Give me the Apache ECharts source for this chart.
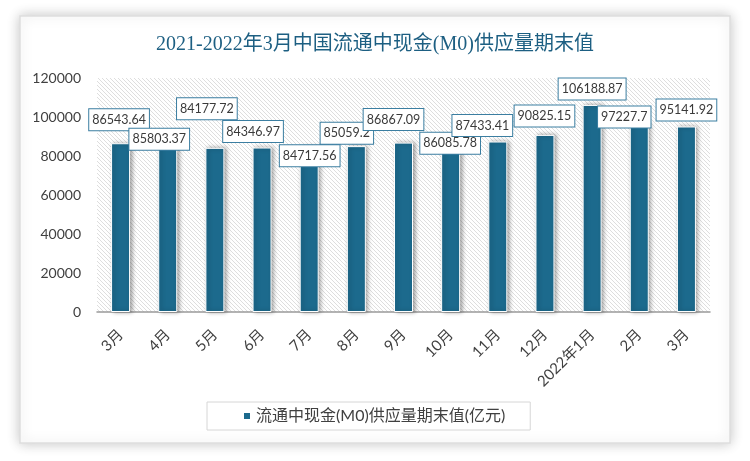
<!DOCTYPE html>
<html>
<head>
<meta charset="utf-8">
<script src="https://cdn.jsdelivr.net/npm/echarts@6/dist/echarts.min.js"></script>
<style>html,body{margin:0;padding:0;background:#fff;}#c{width:750px;height:461px;}</style>
</head>
<body>
<div id="c"></div>
<script>
const titleText = '2021-2022年3月中国流通中现金(M0)供应量期末值';
const seriesName = '流通中现金(M0)供应量期末值(亿元)';
const categories = ['3月','4月','5月','6月','7月','8月','9月','10月','11月','12月','2022年1月','2月','3月'];
const values = [86543.64,85803.37,84177.72,84346.97,84717.56,85059.2,86867.09,86085.78,87433.41,90825.15,106188.87,97227.7,95141.92];
const yTicks = {min:0, max:120000, interval:20000};
// label nudges (px) imitating the reference's manual label placement
const labelNudges = [[-1.5,-8],[-8.5,10],[-8,-23.5],[-9,-0.5],[0.5,24.5],[-9.5,2.5],[-10,-7.5],[-0.5,14.5],[-15.5,-0.5],[-0.5,-3.5],[0,-0.5],[-15,10],[0,-1]];

const FONT = 'Lato, "Noto Sans CJK SC", sans-serif';

function hatch(){
  const s = 4, c = document.createElement('canvas');
  c.width = s; c.height = s;
  const g = c.getContext('2d');
  g.fillStyle = '#ffffff'; g.fillRect(0,0,s,s);
  g.strokeStyle = '#dedede'; g.lineWidth = 1;
  g.beginPath();
  g.moveTo(-1,-1); g.lineTo(s+1,s+1);
  g.moveTo(-1,s-1); g.lineTo(1,s+1);
  g.moveTo(s-1,-1); g.lineTo(s+1,1);
  g.stroke();
  return {image:c, repeat:'repeat'};
}

const chart = echarts.init(document.getElementById('c'), null, {renderer:'canvas'});
chart.setOption({
  animation:false,
  backgroundColor:'#ffffff',
  graphic:[{
    type:'rect', z:-10, silent:true,
    shape:{x:20,y:16,width:710,height:427},
    style:{fill:'#ffffff', stroke:'#dedede', lineWidth:1.5, shadowBlur:12, shadowColor:'rgba(0,0,0,0.22)', shadowOffsetX:0, shadowOffsetY:0}
  }],
  title:{
    text:titleText, left:'center', top:30,
    textStyle:{fontFamily:'"Liberation Serif", "Noto Sans CJK SC", serif', fontSize:20, fontWeight:'normal', color:'#1d5f82'}
  },
  grid:{left:97, right:40, top:78, bottom:149, show:true, borderWidth:0, backgroundColor:hatch()},
  legend:{
    left:207, top:402, itemWidth:8, itemHeight:8, itemGap:5, icon:'rect',
    borderColor:'#d6d6d6', borderWidth:1, padding:[6,25,6,35],
    textStyle:{fontFamily:FONT, fontSize:16, color:'#404040'},
    data:[seriesName]
  },
  xAxis:{
    type:'category', data:categories,
    axisLine:{lineStyle:{color:'#9a9a9a', width:1.5}},
    axisTick:{show:false},
    axisLabel:{rotate:45, interval:0, fontFamily:FONT, fontSize:15, color:'#404040', margin:20}
  },
  yAxis:{
    type:'value', min:yTicks.min, max:yTicks.max, interval:yTicks.interval,
    axisLine:{show:false}, axisTick:{show:false}, splitLine:{show:false},
    axisLabel:{fontFamily:FONT, fontSize:14, color:'#404040', margin:16, formatter:v=>String(v)}
  },
  series:[{
    name:seriesName, type:'bar', barWidth:19,
    itemStyle:{color:'#1c6a8d', borderColor:'#ffffff', borderWidth:1, shadowBlur:4, shadowOffsetX:2, shadowOffsetY:0, shadowColor:'rgba(0,0,0,0.35)'},
    data:values.map((v,i)=>({value:v, label:{offset:labelNudges[i]}})),
    label:{
      show:true, position:'top', distance:5,
      formatter:p=>String(p.value),
      fontFamily:FONT, fontSize:12.5, color:'#3a3a3a', lineHeight:15,
      backgroundColor:'#ffffff', borderColor:'#3b7ea1', borderWidth:1, padding:[3,3]
    }
  }]
});
</script>
</body>
</html>
